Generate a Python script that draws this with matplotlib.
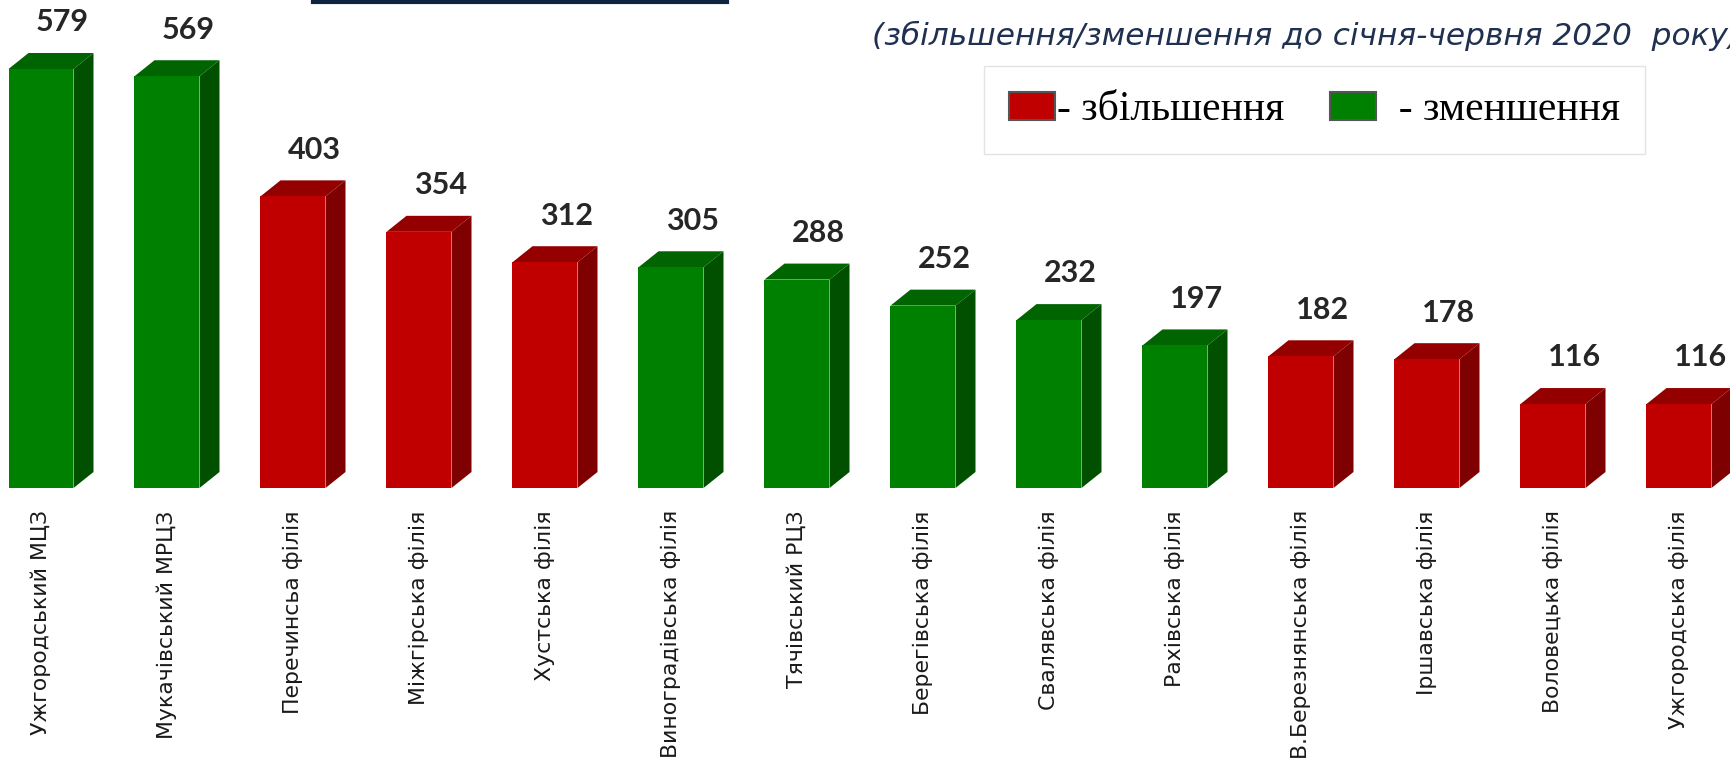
import matplotlib.pyplot as plt
from matplotlib.patches import Polygon, Patch
from matplotlib.lines import Line2D

branches = [
    "Ужгородський МЦЗ", "Мукачівський МРЦЗ", "Перечинсьа філія", "Міжгірська філія",
    "Хустська філія", "Виноградівська філія", "Тячівський РЦЗ", "Берегівська філія",
    "Свалявська філія", "Рахівська філія", "В.Березнянська філія", "Іршавська філія",
    "Воловецька філія", "Ужгородська філія",
]
values = [579, 569, 403, 354, 312, 305, 288, 252, 232, 197, 182, 178, 116, 116]
# True -> збільшення (red), False -> зменшення (green)
increase = [False, False, True, True, True, False, False, False, False, False, True, True, True, True]

# front, side, top shades
RED = ("#c00000", "#7f0000", "#940000")
GREEN = ("#008000", "#005000", "#006400")

W, H = 1731, 771
fig = plt.figure(figsize=(W / 100, H / 100), dpi=100)
ax = fig.add_axes([0, (H - 488) / H, 1, 488 / H])

px_per_unit = 419 / 579
step = 126.0
ax.set_xlim(-41 / step, (W - 41) / step)
ax.set_ylim(0, 488 / px_per_unit)

bw = 65 / step
dx = 20 / step
dy = 16 / px_per_unit

for i, (v, up) in enumerate(zip(values, increase)):
    front, side, top = RED if up else GREEN
    x0, x1 = i - bw / 2, i + bw / 2
    ax.bar(i, v, width=bw, color=front, zorder=3)
    ax.add_patch(Polygon([(x1, 0), (x1 + dx, dy), (x1 + dx, v + dy), (x1, v)],
                         closed=True, facecolor=side, edgecolor="none", zorder=2))
    ax.add_patch(Polygon([(x0, v), (x0 + dx, v + dy), (x1 + dx, v + dy), (x1, v)],
                         closed=True, facecolor=top, edgecolor="none", zorder=2))
    ax.text(i + 0.17, v + dy + 23, str(v), ha="center", va="bottom",
            fontsize=22, fontweight="bold", family="Lato", color="#262626")

ax.set_xticks(range(len(branches)))
ax.set_xticklabels(branches, rotation=90, va="top", ha="center",
                   fontsize=15.8, color="#1a1a1a", family="DejaVu Sans")
ax.tick_params(axis="x", length=0, pad=16)
ax.set_yticks([])
for s in ax.spines.values():
    s.set_visible(False)
ax.patch.set_alpha(0)

# underline of the (cut off) title
fig.add_artist(Line2D([313 / W, 727 / W], [1 - 1.5 / H, 1 - 1.5 / H],
                      color="#0f2440", linewidth=3))

fig.text(872 / W, 1 - 36 / H, "(збільшення/зменшення до січня-червня 2020  року)",
         fontsize=22.5, style="italic", color="#1f3050", family="DejaVu Sans",
         ha="left", va="center")

handles = [Patch(facecolor=RED[0], edgecolor="#555555", linewidth=1.5),
           Patch(facecolor=GREEN[0], edgecolor="#555555", linewidth=1.5)]
leg = fig.legend(handles, ["- збільшення", "  - зменшення"], loc="center",
                 bbox_to_anchor=((978 + 1659) / 2 / W - 4 / W, 1 - 110 / H), ncol=2,
                 prop={"family": "Liberation Serif", "size": 30},
                 frameon=True, fancybox=False, edgecolor="#dddddd",
                 handlelength=1.1, handleheight=0.65, handletextpad=0.05,
                 columnspacing=1.1, borderpad=0.6, borderaxespad=0)
leg.get_frame().set_linewidth(1)

fig.savefig("out.png", dpi=100)
